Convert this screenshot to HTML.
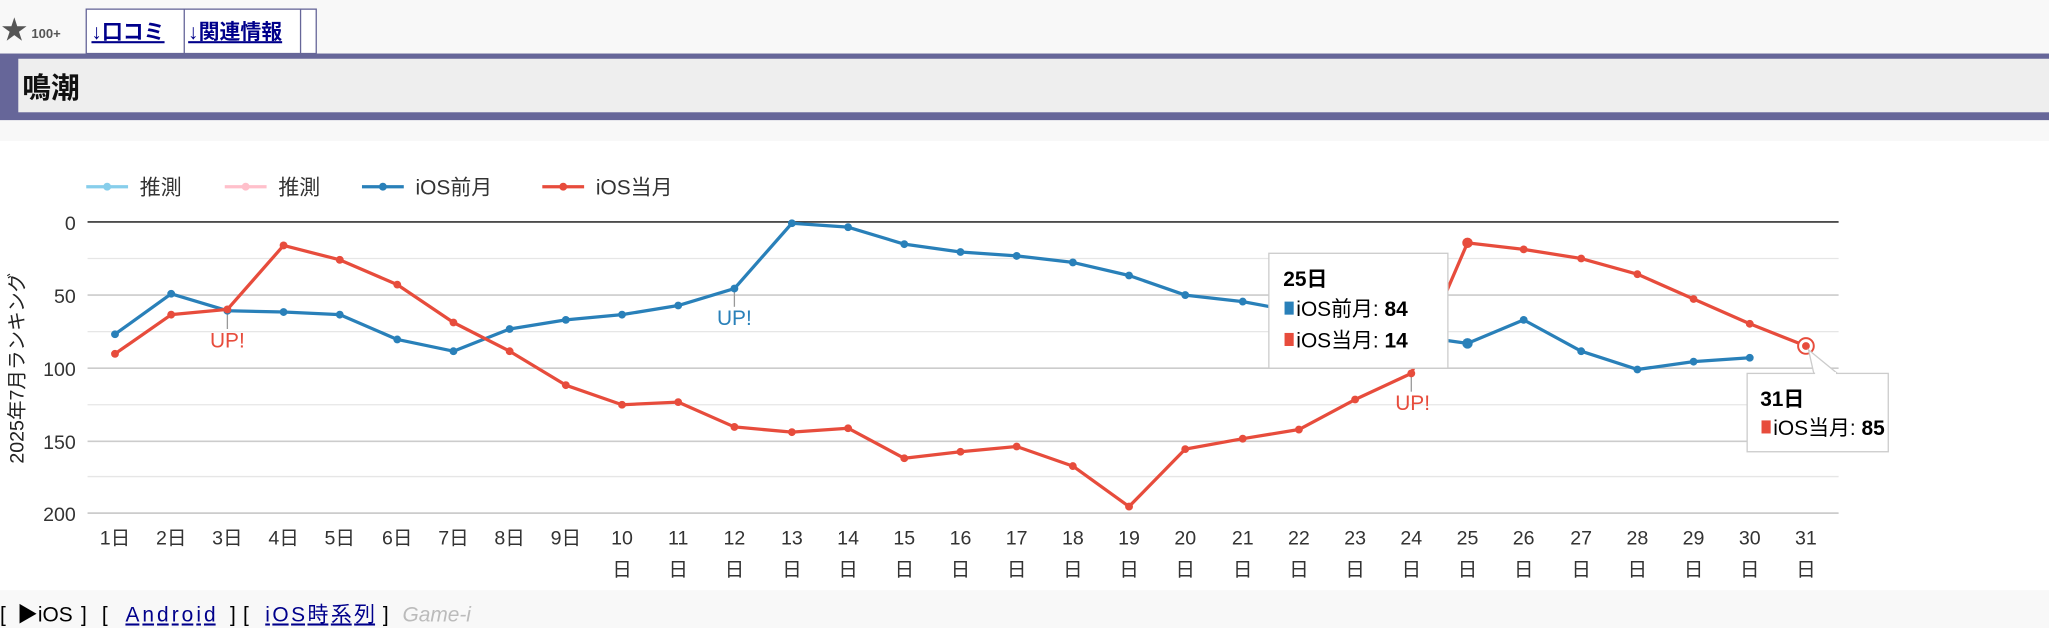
<!DOCTYPE html>
<html><head><meta charset="utf-8"><style>
html,body{margin:0;padding:0;width:2049px;height:628px;overflow:hidden;background:#fff}
svg{display:block}
text{font-family:"Liberation Sans","Noto Sans CJK JP",sans-serif}
</style></head><body>
<svg width="2049" height="628" viewBox="0 0 1568 481" preserveAspectRatio="none" xmlns="http://www.w3.org/2000/svg">
<rect x="0" y="0" width="1568" height="481" fill="#f8f8f8"/>
<!-- tabs -->
<rect x="66" y="7" width="176" height="34" fill="#fff" stroke="#666699" stroke-width="1"/>
<line x1="141" y1="7" x2="141" y2="41" stroke="#666699"/>
<line x1="230" y1="7" x2="230" y2="41" stroke="#666699"/>
<text x="1" y="30" font-size="20" fill="#555">★</text>
<text x="24" y="29" font-size="10" font-weight="bold" fill="#555">100+</text>
<text x="70" y="30" font-size="16" font-weight="bold" fill="#00008b" text-decoration="underline">↓口コミ</text>
<text x="144" y="30" font-size="16" font-weight="bold" fill="#00008b" text-decoration="underline">↓関連情報</text>
<!-- title band -->
<rect x="0" y="41" width="1568" height="51" fill="#666699"/>
<rect x="14" y="45" width="1554" height="41" fill="#eeeeee"/>
<text x="17" y="75" font-size="22" font-weight="bold" fill="#111">鳴潮</text>
<!-- chart bg -->
<rect x="0" y="108" width="1568" height="344" fill="#fff"/>
<!-- legend -->
<g stroke-width="2.5">
<line x1="66" y1="143" x2="98" y2="143" stroke="#87ceeb"/><circle cx="82" cy="143" r="3" fill="#87ceeb"/>
<line x1="172" y1="143" x2="204" y2="143" stroke="#ffc0cb"/><circle cx="188" cy="143" r="3" fill="#ffc0cb"/>
<line x1="277" y1="143" x2="309" y2="143" stroke="#2980b9"/><circle cx="293" cy="143" r="3" fill="#2980b9"/>
<line x1="415" y1="143" x2="447" y2="143" stroke="#e74c3c"/><circle cx="431" cy="143" r="3" fill="#e74c3c"/>
</g>
<g font-size="16" fill="#333">
<text x="107" y="149">推測</text><text x="213" y="149">推測</text><text x="318" y="149">iOS前月</text><text x="456" y="149">iOS当月</text>
</g>
<!-- grid -->
<g stroke="#e6e6e6" stroke-width="1">
<line x1="67" y1="198" x2="1407" y2="198"/><line x1="67" y1="254" x2="1407" y2="254"/>
<line x1="67" y1="310" x2="1407" y2="310"/><line x1="67" y1="365" x2="1407" y2="365"/>
</g>
<g stroke="#cccccc" stroke-width="1.3">
<line x1="67" y1="226" x2="1407" y2="226"/><line x1="67" y1="282" x2="1407" y2="282"/>
<line x1="67" y1="338" x2="1407" y2="338"/><line x1="67" y1="393" x2="1407" y2="393"/>
</g>
<line x1="67" y1="170" x2="1407" y2="170" stroke="#333" stroke-width="1.3"/>
<g font-size="15" fill="#333" text-anchor="end">
<text x="58" y="176">0</text><text x="58" y="232">50</text><text x="58" y="288">100</text><text x="58" y="344">150</text><text x="58" y="399">200</text>
</g>
<text transform="translate(18,282) rotate(-90)" font-size="15" fill="#222" text-anchor="middle">2025年7月ランキング</text>
<!-- x labels -->
<g font-size="15" fill="#333" text-anchor="middle">
<text x="88" y="417">1日</text><text x="131" y="417">2日</text><text x="174" y="417">3日</text><text x="217" y="417">4日</text><text x="260" y="417">5日</text><text x="304" y="417">6日</text><text x="347" y="417">7日</text><text x="390" y="417">8日</text><text x="433" y="417">9日</text>
<text x="476" y="417">10</text><text x="519" y="417">11</text><text x="562" y="417">12</text><text x="606" y="417">13</text><text x="649" y="417">14</text><text x="692" y="417">15</text><text x="735" y="417">16</text><text x="778" y="417">17</text><text x="821" y="417">18</text><text x="864" y="417">19</text><text x="907" y="417">20</text><text x="951" y="417">21</text><text x="994" y="417">22</text><text x="1037" y="417">23</text><text x="1080" y="417">24</text><text x="1123" y="417">25</text><text x="1166" y="417">26</text><text x="1210" y="417">27</text><text x="1253" y="417">28</text><text x="1296" y="417">29</text><text x="1339" y="417">30</text><text x="1382" y="417">31</text>
<text x="476" y="441">日</text><text x="519" y="441">日</text><text x="562" y="441">日</text><text x="606" y="441">日</text><text x="649" y="441">日</text><text x="692" y="441">日</text><text x="735" y="441">日</text><text x="778" y="441">日</text><text x="821" y="441">日</text><text x="864" y="441">日</text><text x="907" y="441">日</text><text x="951" y="441">日</text><text x="994" y="441">日</text><text x="1037" y="441">日</text><text x="1080" y="441">日</text><text x="1123" y="441">日</text><text x="1166" y="441">日</text><text x="1210" y="441">日</text><text x="1253" y="441">日</text><text x="1296" y="441">日</text><text x="1339" y="441">日</text><text x="1382" y="441">日</text>
</g>
<!-- UP markers -->
<g stroke="#999" stroke-width="1">
<line x1="174" y1="238" x2="174" y2="252"/><line x1="562" y1="221" x2="562" y2="235"/><line x1="1080" y1="286" x2="1080" y2="300"/>
</g>
<g font-size="16" text-anchor="middle">
<text x="174" y="266" fill="#e74c3c">UP!</text><text x="562" y="249" fill="#2980b9">UP!</text><text x="1081" y="314" fill="#e74c3c">UP!</text>
</g>
<!-- series -->
<polyline fill="none" stroke="#2980b9" stroke-width="2.5" stroke-linejoin="round" points="88,256 131,225 174,238 217,239 260,241 304,260 347,269 390,252 433,245 476,241 519,234 562,221 606,171 649,174 692,187 735,193 778,196 821,201 864,211 907,226 951,231 994,239 1037,248 1080,257 1123,263 1166,245 1210,269 1253,283 1296,277 1339,274"/>
<g fill="#2980b9">
<circle cx="88" cy="256" r="3"/><circle cx="131" cy="225" r="3"/><circle cx="174" cy="238" r="3"/><circle cx="217" cy="239" r="3"/><circle cx="260" cy="241" r="3"/><circle cx="304" cy="260" r="3"/><circle cx="347" cy="269" r="3"/><circle cx="390" cy="252" r="3"/><circle cx="433" cy="245" r="3"/><circle cx="476" cy="241" r="3"/><circle cx="519" cy="234" r="3"/><circle cx="562" cy="221" r="3"/><circle cx="606" cy="171" r="3"/><circle cx="649" cy="174" r="3"/><circle cx="692" cy="187" r="3"/><circle cx="735" cy="193" r="3"/><circle cx="778" cy="196" r="3"/><circle cx="821" cy="201" r="3"/><circle cx="864" cy="211" r="3"/><circle cx="907" cy="226" r="3"/><circle cx="951" cy="231" r="3"/><circle cx="994" cy="239" r="3"/><circle cx="1037" cy="248" r="3"/><circle cx="1080" cy="257" r="3"/><circle cx="1123" cy="263" r="4"/><circle cx="1166" cy="245" r="3"/><circle cx="1210" cy="269" r="3"/><circle cx="1253" cy="283" r="3"/><circle cx="1296" cy="277" r="3"/><circle cx="1339" cy="274" r="3"/>
</g>
<polyline fill="none" stroke="#e74c3c" stroke-width="2.5" stroke-linejoin="round" points="88,271 131,241 174,237 217,188 260,199 304,218 347,247 390,269 433,295 476,310 519,308 562,327 606,331 649,328 692,351 735,346 778,342 821,357 864,388 907,344 951,336 994,329 1037,306 1080,286 1123,186 1166,191 1210,198 1253,210 1296,229 1339,248 1382,265"/>
<g fill="#e74c3c">
<circle cx="88" cy="271" r="3"/><circle cx="131" cy="241" r="3"/><circle cx="174" cy="237" r="3"/><circle cx="217" cy="188" r="3"/><circle cx="260" cy="199" r="3"/><circle cx="304" cy="218" r="3"/><circle cx="347" cy="247" r="3"/><circle cx="390" cy="269" r="3"/><circle cx="433" cy="295" r="3"/><circle cx="476" cy="310" r="3"/><circle cx="519" cy="308" r="3"/><circle cx="562" cy="327" r="3"/><circle cx="606" cy="331" r="3"/><circle cx="649" cy="328" r="3"/><circle cx="692" cy="351" r="3"/><circle cx="735" cy="346" r="3"/><circle cx="778" cy="342" r="3"/><circle cx="821" cy="357" r="3"/><circle cx="864" cy="388" r="3"/><circle cx="907" cy="344" r="3"/><circle cx="951" cy="336" r="3"/><circle cx="994" cy="329" r="3"/><circle cx="1037" cy="306" r="3"/><circle cx="1080" cy="286" r="3"/><circle cx="1123" cy="186" r="4"/><circle cx="1166" cy="191" r="3"/><circle cx="1210" cy="198" r="3"/><circle cx="1253" cy="210" r="3"/><circle cx="1296" cy="229" r="3"/><circle cx="1339" cy="248" r="3"/><circle cx="1382" cy="265" r="3"/>
</g>
<circle cx="1382" cy="265" r="6" fill="#fff" stroke="#e74c3c" stroke-width="1.5"/>
<circle cx="1382" cy="265" r="3" fill="#e74c3c"/>
<!-- tooltip 25 -->
<rect x="971" y="194" width="137" height="88" fill="#fff" stroke="#ccc" stroke-width="1"/>
<text x="982" y="219" font-size="16" font-weight="bold" fill="#000">25日</text>
<rect x="983" y="231" width="7" height="10" fill="#2980b9"/>
<text x="992" y="242" font-size="16" fill="#000">iOS前月: <tspan font-weight="bold">84</tspan></text>
<rect x="983" y="255" width="7" height="10" fill="#e74c3c"/>
<text x="992" y="266" font-size="16" fill="#000">iOS当月: <tspan font-weight="bold">14</tspan></text>
<!-- tooltip 31 -->
<polygon points="1384,268 1406,286 1388,286" fill="#fff" stroke="#ccc"/>
<rect x="1337" y="286" width="108" height="60" fill="#fff" stroke="#ccc" stroke-width="1"/>
<line x1="1389" y1="286" x2="1405" y2="286" stroke="#fff" stroke-width="2"/>
<text x="1347" y="311" font-size="16" font-weight="bold" fill="#000">31日</text>
<rect x="1348" y="322" width="7" height="10" fill="#e74c3c"/>
<text x="1357" y="333" font-size="16" fill="#000">iOS当月: <tspan font-weight="bold">85</tspan></text>
<!-- footer -->
<g font-size="16" style="font-family:'DejaVu Sans','Noto Sans CJK JP',sans-serif">
<text x="0" y="476" fill="#000">[</text>
<text x="13" y="476" fill="#000">▶iOS</text>
<text x="62" y="476" fill="#000">]</text>
<text x="78" y="476" fill="#000">[</text>
<text x="96" y="476" fill="#00008b" text-decoration="underline" textLength="69">Android</text>
<text x="176" y="476" fill="#000">]</text>
<text x="186" y="476" fill="#000">[</text>
<text x="203" y="476" fill="#00008b" text-decoration="underline" textLength="84">iOS時系列</text>
<text x="293" y="476" fill="#000">]</text>
<text x="308" y="476" fill="#bbb" font-style="italic">Game-i</text>
</g>
</svg>
</body></html>
